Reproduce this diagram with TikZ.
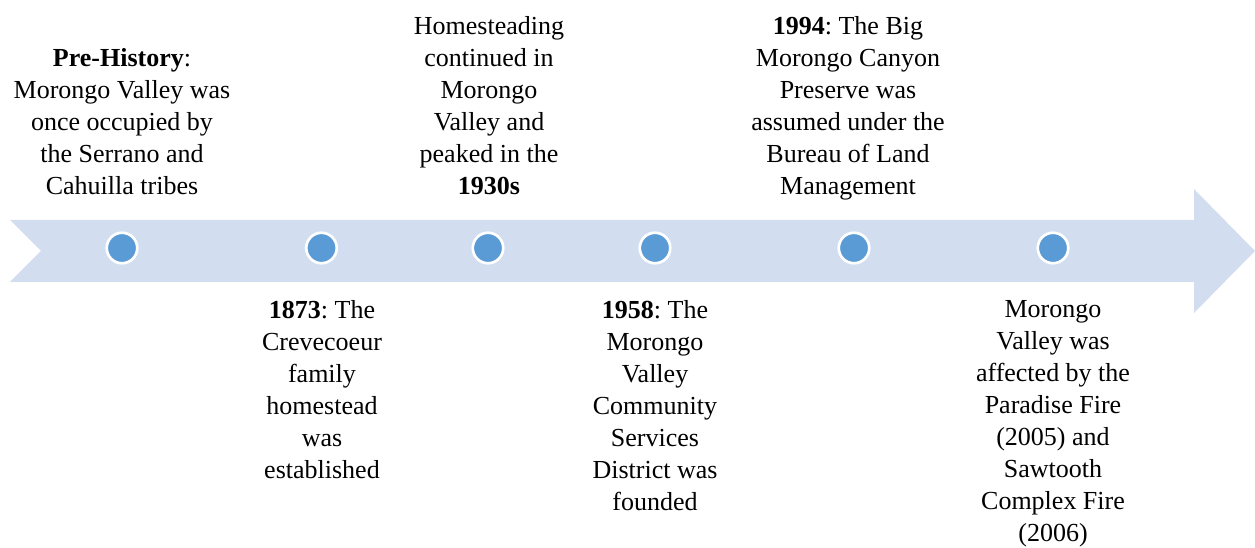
\documentclass[tikz,border=0pt]{standalone}
\usepackage{fontspec}
\setmainfont{Liberation Serif}
\definecolor{arrowfill}{HTML}{D2DEEF}
\definecolor{dotfill}{HTML}{5B9BD5}
\tikzset{
  dot/.style={circle, fill=dotfill, draw=white, line width=2.0pt, minimum size=30.5*0.75pt, inner sep=0pt},
  label/.style={align=center, inner sep=0pt, text=black, font=\fontsize{19.5pt}{24pt}\selectfont\frenchspacing}
}
\begin{document}
\begin{tikzpicture}[x=0.75pt,y=-0.75pt]
\useasboundingbox (0,0) rectangle (1255,548);
\fill[arrowfill] (10,220) -- (1194,220) -- (1194,189) -- (1255,251) -- (1194,313) -- (1194,282) -- (10,282) -- (41,251) -- cycle;
\node[dot] (c1) at (122,248) {};
\node[dot] (c2) at (321.5,248) {};
\node[dot] (c3) at (488,248) {};
\node[dot] (c4) at (655,248) {};
\node[dot] (c5) at (854,248) {};
\node[dot] (c6) at (1053,248) {};
\node[label, anchor=north] (t1) at (122,48) {\textbf{Pre-History}:\\Morongo Valley was\\once occupied by\\the Serrano and\\Cahuilla tribes};
\node[label, anchor=north] (t2) at (322,300) {\textbf{1873}: The\\Crevecoeur\\family\\homestead\\was\\established};
\node[label, anchor=north] (t3) at (489,16) {Homesteading\\continued in\\Morongo\\Valley and\\peaked in the\\\textbf{1930s}};
\node[label, anchor=north] (t4) at (655,300) {\textbf{1958}: The\\Morongo\\Valley\\Community\\Services\\District was\\founded};
\node[label, anchor=north] (t5) at (848,16) {\textbf{1994}: The Big\\Morongo Canyon\\Preserve was\\assumed under the\\Bureau of Land\\Management};
\node[label, anchor=north] (t6) at (1053,300) {Morongo\\Valley was\\affected by the\\Paradise Fire\\(2005) and\\Sawtooth\\Complex Fire\\(2006)};
\end{tikzpicture}
\end{document}
